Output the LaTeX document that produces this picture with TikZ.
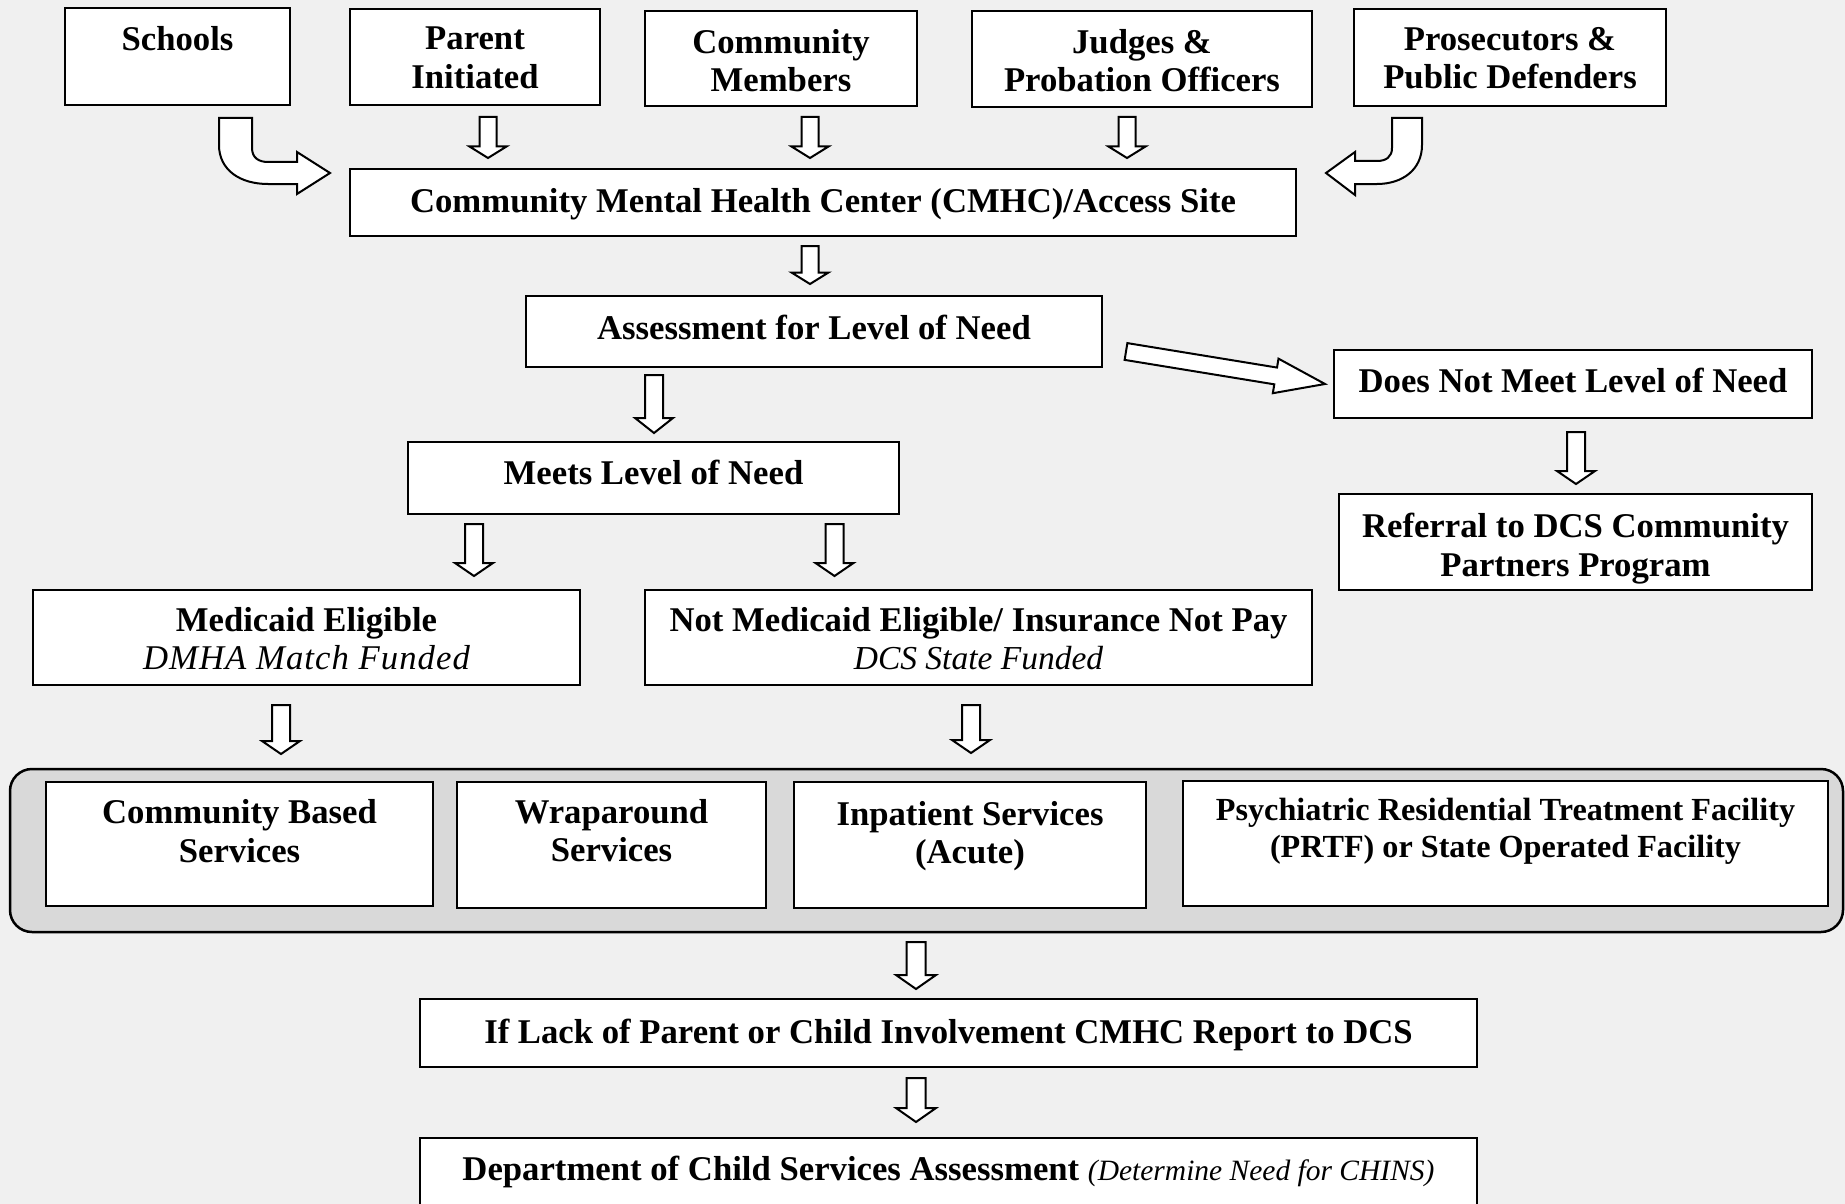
\documentclass[tikz,border=0pt]{standalone}
\usepackage{fontspec}
\setmainfont{Liberation Serif}
\usetikzlibrary{calc}
\definecolor{bgc}{HTML}{F0F0F0}
\definecolor{grp}{HTML}{D9D9D9}
\newcommand\mainfnt{\bfseries\fontsize{34.7}{38.5}\selectfont}
\newcommand\prtffnt{\bfseries\fontsize{32.2}{36.7}\selectfont}
% box node from corner coordinates
\newcommand\mkbox[6][box]{\node[#1, minimum width={(#5)-(#3)}, minimum height={(#6)-(#4)}] (#2) at ({((#3)+(#5))/2},{((#4)+(#6))/2}) {};}
% hollow block arrow: start, tip, shaft half width, head half width, head length
\newcommand\blockarr[5]{%
  \coordinate (ba-h) at ($(#2)!#5pt!(#1)$);
  \draw[arr] ($(#1)!#3pt!90:(#2)$) -- ($(ba-h)!#3pt!90:(#2)$) -- ($(ba-h)!#4pt!90:(#2)$) -- (#2)
    -- ($(ba-h)!#4pt!-90:(#2)$) -- ($(ba-h)!#3pt!-90:(#2)$) -- ($(#1)!#3pt!-90:(#2)$) -- cycle;}
\begin{document}
\begin{tikzpicture}[x=1pt,y=-1pt,
  box/.style={draw=black, line width=2.5pt, fill=white, outer sep=0pt, inner sep=0pt},
  grpbox/.style={draw=black, line width=2.5pt, fill=grp, rounded corners=22pt, outer sep=0pt, inner sep=0pt},
  txt/.style={inner sep=0pt, anchor=north, align=center, font=\mainfnt},
  arr/.style={draw=black, line width=2pt, fill=white, line join=miter},
]
\useasboundingbox (0,0) rectangle (1845,1204);
\clip (0,0) rectangle (1845,1204);
\fill[bgc] (0,0) rectangle (1845,1204);

% top row
\mkbox{schools}{65}{8}{290}{105}
\mkbox{parent}{350}{9}{600}{105}
\mkbox{community}{645}{11}{917}{106}
\mkbox{judges}{972}{11}{1312}{107}
\mkbox{prosecutors}{1354}{9}{1666}{106}
\node[txt] (schools-t) at ([yshift=-18pt]schools.north) {Schools};
\node[txt] (parent-t) at ([yshift=-18pt]parent.north) {Parent\\Initiated};
\node[txt] (community-t) at ([yshift=-18pt]community.north) {Community\\Members};
\node[txt] (judges-t) at ([yshift=-18pt]judges.north) {Judges \&\\Probation Officers};
\node[txt] (prosecutors-t) at ([yshift=-18pt]prosecutors.north) {Prosecutors \&\\Public Defenders};

% CMHC
\mkbox{cmhc}{350}{169}{1296}{236}
\node[txt] (cmhc-t) at ([yshift=-19pt]cmhc.north) {Community Mental Health Center (CMHC)/Access Site};

% assessment and outcomes
\mkbox{assess}{526}{296}{1102}{367}
\node[txt] (assess-t) at ([yshift=-19pt]assess.north) {Assessment for Level of Need};
\mkbox{notmeet}{1334}{350}{1812}{418}
\node[txt] (notmeet-t) at ([yshift=-18pt]notmeet.north) {Does Not Meet Level of Need};
\mkbox{referral}{1339}{494}{1812}{590}
\node[txt] (referral-t) at ([yshift=-19pt]referral.north) {Referral to DCS Community\\Partners Program};
\mkbox{meets}{408}{442}{899}{514}
\node[txt] (meets-t) at ([yshift=-18pt]meets.north) {Meets Level of Need};

% funding
\mkbox{medicaid}{33}{590}{580}{685}
\node[txt] (medicaid-t) at ([yshift=-17pt]medicaid.north) {Medicaid Eligible\\{\mdseries\itshape\addfontfeature{LetterSpace=3}DMHA Match Funded}};
\mkbox{notmed}{645}{590}{1312}{685}
\node[txt] (notmed-t) at ([yshift=-17pt]notmed.north) {Not Medicaid Eligible/ Insurance Not Pay\\{\mdseries\itshape\fontsize{33.5}{38.5}\selectfont DCS State Funded}};

% services group
\mkbox[grpbox]{group}{10}{769}{1843}{932}
\mkbox{cbs}{46}{782}{433}{906}
\mkbox{wrap}{457}{782}{766}{908}
\mkbox{inpat}{794}{782}{1146}{908}
\mkbox{prtf}{1183}{781}{1828}{906}
\node[txt] (cbs-t) at ([yshift=-17.5pt]cbs.north) {Community Based\\Services};
\node[txt] (wrap-t) at ([yshift=-17pt]wrap.north) {Wraparound\\Services};
\node[txt] (inpat-t) at ([yshift=-19pt]inpat.north) {Inpatient Services\\(Acute)};
\node[txt, font=\prtffnt] (prtf-t) at ([yshift=-17pt]prtf.north) {Psychiatric Residential Treatment Facility\\(PRTF) or State Operated Facility};

% bottom
\mkbox{iflack}{420}{999}{1477}{1067}
\node[txt] (iflack-t) at ([yshift=-20pt]iflack.north) {If Lack of Parent or Child Involvement CMHC Report to DCS};
\mkbox{dept}{420}{1138}{1477}{1240}
\node[txt] (dept-t) at ([yshift=-18pt]dept.north) {Department of Child Services Assessment {\mdseries\itshape\fontsize{29.5}{34}\selectfont (Determine Need for CHINS)}};

% block arrows (straight)
\coordinate (a1s) at (488,117);  \coordinate (a1t) at (488,158);
\coordinate (a2s) at (810,117);  \coordinate (a2t) at (810,158);
\coordinate (a3s) at (1127,117); \coordinate (a3t) at (1127,158);
\coordinate (a4s) at (810,246);  \coordinate (a4t) at (810,284);
\coordinate (a5s) at (654,375);  \coordinate (a5t) at (654,433);
\coordinate (a6s) at (1576,432); \coordinate (a6t) at (1576,484);
\coordinate (a7s) at (474,524);  \coordinate (a7t) at (474,576);
\coordinate (a8s) at (834.5,524);\coordinate (a8t) at (834.5,576);
\coordinate (a9s) at (281,705);  \coordinate (a9t) at (281,754);
\coordinate (a10s) at (971,705); \coordinate (a10t) at (971,753);
\coordinate (a11s) at (916,942); \coordinate (a11t) at (916,989);
\coordinate (a12s) at (916,1078);\coordinate (a12t) at (916,1122);
\coordinate (dgs) at (1126,351.5); \coordinate (dgt) at (1325,384);

\blockarr{a1s}{a1t}{8.5}{18.5}{11.5}
\blockarr{a2s}{a2t}{8.5}{18.5}{11.5}
\blockarr{a3s}{a3t}{8.5}{18.5}{11.5}
\blockarr{a4s}{a4t}{8.5}{18.5}{11.5}
\blockarr{a5s}{a5t}{9}{19}{15}
\blockarr{a6s}{a6t}{9}{19}{13}
\blockarr{a7s}{a7t}{9}{19}{13}
\blockarr{a8s}{a8t}{9}{19}{13}
\blockarr{a9s}{a9t}{9}{19}{13}
\blockarr{a10s}{a10t}{9}{19}{13}
\blockarr{a11s}{a11t}{9.5}{20}{14}
\blockarr{a12s}{a12t}{9.5}{20}{14}
\blockarr{dgs}{dgt}{8.5}{17.5}{50}

% curved block arrows
\draw[arr] (219,118) -- (219,145) .. controls (219,170) and (240,184) .. (268,184) -- (297,184) -- (297,194) -- (330,173) -- (297,152) -- (297,162) -- (268,162) .. controls (259,162) and (252,158) .. (252,148) -- (252,118) -- cycle;
\draw[arr] (1422,118) -- (1422,145) .. controls (1422,170) and (1402,184) .. (1377,184) -- (1355,184) -- (1355,195) -- (1326,173) -- (1355,152) -- (1355,161) -- (1377,161) .. controls (1386,161) and (1392,157) .. (1392,148) -- (1392,118) -- cycle;
\end{tikzpicture}
\end{document}
